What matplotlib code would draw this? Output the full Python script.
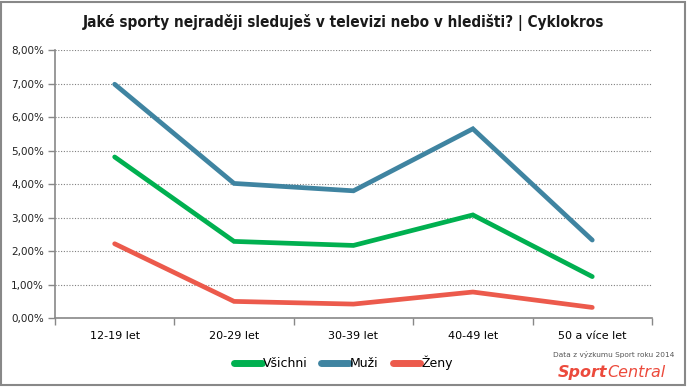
import matplotlib.pyplot as plt
from matplotlib.patches import Rectangle
from matplotlib.ticker import FuncFormatter, MultipleLocator

categories = ["12-19 let", "20-29 let", "30-39 let", "40-49 let", "50 a více let"]
vsichni = [4.81, 2.29, 2.17, 3.08, 1.24]
muzi = [6.98, 4.02, 3.80, 5.65, 2.33]
zeny = [2.22, 0.50, 0.42, 0.78, 0.32]

series = [
    ("Všichni", vsichni, "#00B050"),
    ("Muži", muzi, "#3F84A1"),
    ("Ženy", zeny, "#EC5A4C"),
]

fig = plt.figure(figsize=(6.87, 3.88), dpi=100)
ax = fig.add_axes([0.080, 0.180, 0.869, 0.691])

x = list(range(len(categories)))
for name, vals, col in series:
    ax.plot(x, vals, color=col, lw=3.4, label=name,
            solid_capstyle="round", solid_joinstyle="miter")

ax.set_xlim(-0.5, len(categories) - 0.5)
ax.set_ylim(0, 8)
ax.yaxis.set_major_locator(MultipleLocator(1))
ax.yaxis.set_major_formatter(FuncFormatter(lambda v, p: f"{v:.2f}%".replace(".", ",")))
ax.grid(axis="y", color="#808080", linestyle=(0, (1, 1.5)), lw=0.8)
ax.set_axisbelow(True)

# category labels between boundary ticks
ax.set_xticks(x)
ax.set_xticklabels(categories, fontsize=8)
ax.set_xticks([i - 0.5 for i in range(len(categories) + 1)], minor=True)
ax.tick_params(axis="x", which="major", length=0, pad=9)
ax.tick_params(axis="x", which="minor", length=5, color="#888888", width=1)
ax.tick_params(axis="y", length=5, color="#888888", width=1, labelsize=7.5,
               pad=3, labelcolor="#222222")

for s in ["top", "right"]:
    ax.spines[s].set_visible(False)
for s in ["left", "bottom"]:
    ax.spines[s].set_color("#888888")
    ax.spines[s].set_linewidth(1.2)

fig.text(0.5, 0.943, "Jaké sporty nejraději sleduješ v televizi nebo v hledišti? | Cyklokros",
         ha="center", va="center", fontsize=11, fontweight="bold",
         fontstretch="condensed", color="#1a1a1a")

leg = fig.legend(loc="center", bbox_to_anchor=(0.5, 0.064), ncol=3, frameon=False,
                 handlelength=2.2, handletextpad=0.1, columnspacing=1.1,
                 prop={"size": 9})
for line in leg.get_lines():
    line.set_linewidth(5)
    line.set_solid_capstyle("round")

fig.text(0.893, 0.087, "Data z výzkumu Sport roku 2014", ha="center", va="center",
         fontsize=5.3, color="#555555")
t1 = fig.text(0.812, 0.040, "Sport", ha="left", va="center", fontsize=11.5,
              fontweight="bold", style="italic", color="#EC4A3C")
fig.canvas.draw()
bb = t1.get_window_extent()
fig.text(bb.x1 / fig.bbox.width, 0.040, "Central", ha="left", va="center",
         fontsize=11.5, style="italic", color="#EC4A3C")

fig.patches.append(Rectangle((0.002, 0.008), 0.995, 0.988, transform=fig.transFigure,
                             fill=False, edgecolor="#888888", lw=1.5, figure=fig))

fig.savefig("out.png", dpi=100)
